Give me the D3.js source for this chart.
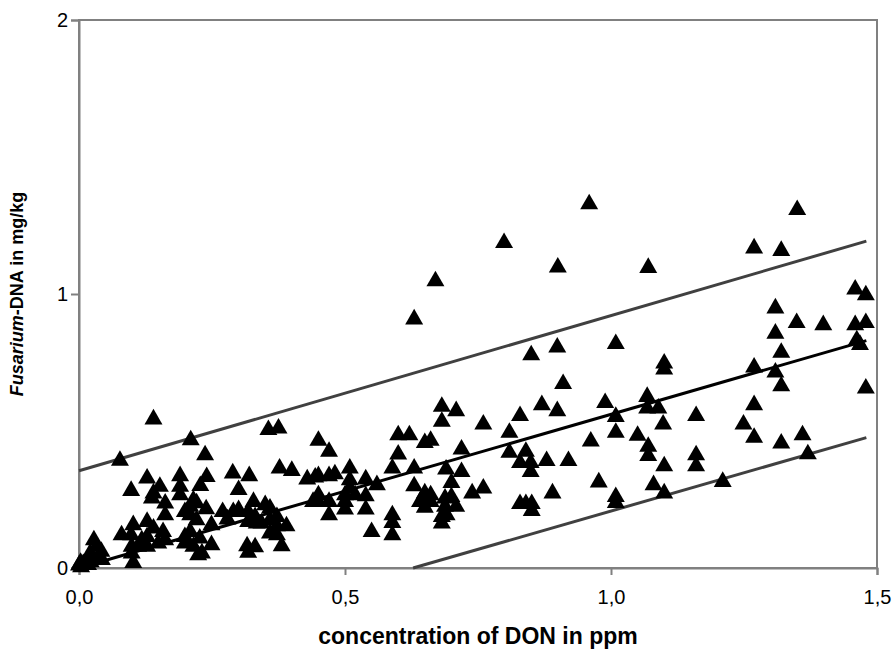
<!DOCTYPE html>
<html>
<head>
<meta charset="utf-8">
<script src="https://cdn.jsdelivr.net/npm/d3@7"></script>
<style>
  body { margin: 0; background: #fff; }
  text { font-family: "Liberation Sans", Arial, sans-serif; }
</style>
</head>
<body>
<script>
// DON (ppm) vs Fusarium-DNA (mg/kg)
var samples = [
  [0.000,0.010],[0.003,0.020],[0.008,0.015],[0.013,0.018],[0.017,0.012],[0.022,0.022],[0.004,0.003],[0.033,0.030],[0.043,0.030],
  [0.028,0.102],[0.033,0.078],[0.042,0.060],[0.021,0.054],[0.077,0.392],
  [0.098,0.282],[0.102,0.157],[0.098,0.120],[0.080,0.120],[0.128,0.169],[0.140,0.145],[0.128,0.114],[0.128,0.078],
  [0.158,0.132],[0.162,0.102],[0.149,0.090],[0.118,0.102],[0.111,0.078],[0.099,0.078],[0.099,0.054],[0.102,0.019],
  [0.199,0.114],[0.199,0.090],[0.215,0.078],[0.224,0.047],
  [0.128,0.327],[0.140,0.543],[0.210,0.467],[0.237,0.412],
  [0.190,0.336],[0.190,0.297],[0.190,0.266],[0.152,0.297],[0.140,0.273],[0.137,0.254],[0.162,0.236],[0.162,0.193],[0.228,0.300],[0.199,0.205],
  [0.240,0.333],[0.289,0.346],[0.320,0.336],[0.300,0.285],[0.377,0.364],[0.400,0.355],[0.429,0.324],[0.444,0.331],
  [0.356,0.504],[0.375,0.510],
  [0.239,0.215],[0.270,0.205],[0.290,0.205],[0.300,0.212],[0.328,0.242],[0.350,0.230],[0.359,0.218],
  [0.215,0.248],[0.221,0.237],[0.209,0.224],[0.209,0.193],[0.318,0.205],[0.331,0.187],[0.318,0.169],[0.334,0.163],[0.343,0.163],
  [0.359,0.175],[0.372,0.187],[0.372,0.153],[0.390,0.153],[0.359,0.127],[0.372,0.120],[0.381,0.080],[0.316,0.080],[0.331,0.076],[0.318,0.056],
  [0.249,0.157],[0.221,0.175],[0.227,0.108],[0.249,0.084],[0.231,0.054],[0.209,0.132],[0.279,0.178],
  [0.450,0.465],[0.470,0.425],[0.600,0.485],[0.621,0.485],[0.650,0.457],[0.661,0.465],[0.600,0.415],[0.589,0.364],[0.630,0.364],
  [0.509,0.364],[0.450,0.336],[0.470,0.336],[0.481,0.343],[0.509,0.321],[0.509,0.291],[0.539,0.324],[0.560,0.303],[0.630,0.299],
  [0.650,0.273],[0.661,0.266],[0.641,0.242],[0.661,0.242],[0.650,0.221],[0.450,0.266],[0.440,0.242],[0.450,0.242],[0.500,0.266],
  [0.519,0.266],[0.500,0.242],[0.539,0.263],[0.470,0.242],[0.500,0.214],[0.539,0.214],[0.470,0.193],[0.589,0.193],[0.589,0.165],
  [0.550,0.132],[0.589,0.120],
  [0.910,0.672],[0.870,0.595],[0.899,0.573],[0.829,0.555],[0.682,0.589],[0.682,0.534],[0.709,0.573],[0.760,0.524],[0.809,0.494],
  [0.962,0.462],[0.719,0.433],[0.809,0.421],[0.840,0.425],[0.829,0.384],[0.849,0.384],[0.879,0.391],[0.920,0.391],[0.849,0.351],
  [0.690,0.360],[0.719,0.351],[0.700,0.311],[0.760,0.291],[0.739,0.273],[0.890,0.273],[0.829,0.234],[0.840,0.234],[0.851,0.234],
  [0.851,0.209],[0.688,0.254],[0.700,0.260],[0.709,0.224],[0.688,0.224],[0.682,0.187],[0.691,0.193],[0.682,0.163],
  [0.850,0.777],[0.899,0.805],[1.009,0.818],
  [0.989,0.603],[1.068,0.625],[1.068,0.583],[1.089,0.583],[1.009,0.552],[1.160,0.555],[1.098,0.524],[1.249,0.524],[1.009,0.494],
  [1.050,0.483],[1.070,0.443],[1.070,0.409],[1.160,0.412],[1.160,0.372],[1.100,0.372],[0.977,0.313],[1.080,0.303],[1.100,0.273],
  [1.009,0.260],[1.009,0.238],[1.210,0.315],
  [1.350,1.307],[1.269,1.167],[1.320,1.158],[1.070,1.096],[1.459,1.017],[1.479,0.996],[1.309,0.948],[1.349,0.895],[1.399,0.887],
  [1.459,0.887],[1.479,0.895],[1.309,0.856],[1.320,0.786],[1.462,0.832],[1.468,0.815],[1.269,0.732],[1.309,0.714],[1.320,0.664],
  [1.479,0.656],[1.100,0.747],[1.100,0.725],[1.269,0.595],[1.269,0.476],[1.320,0.455],[1.360,0.485],[1.370,0.416],
  [0.959,1.328],[0.799,1.187],[0.900,1.097],[0.670,1.047],[0.630,0.908]
];

// regression line and prediction band (end points)
var fitLine = [[0, 0.0], [1.48, 0.83]];
var upperLine = [[0, 0.355], [1.48, 1.193]];
var lowerLine = [[0.628, 0], [1.48, 0.476]];

var xTicks = [0, 0.5, 1.0, 1.5];
var yTicks = [0, 1, 2];

var size = { width: 893, height: 651 };
var margin = { top: 20, right: 16, bottom: 83, left: 79 };
var w = size.width - margin.left - margin.right;
var h = size.height - margin.top - margin.bottom;

var comma = d3.formatLocale({ decimal: ",", thousands: ".", grouping: [3], currency: ["", ""] });

var x = d3.scaleLinear().domain([0, 1.5]).range([0, w]);
var y = d3.scaleLinear().domain([0, 2]).range([h, 0]);

var svg = d3.select("body").append("svg")
  .attr("width", size.width)
  .attr("height", size.height);

var g = svg.append("g")
  .attr("transform", "translate(" + margin.left + "," + margin.top + ")");

// frame
g.append("rect")
  .attr("width", w).attr("height", h)
  .attr("fill", "none")
  .attr("stroke", "#808080")
  .attr("stroke-width", 2);

var xAxis = g.append("g")
  .attr("transform", "translate(0," + h + ")")
  .call(d3.axisBottom(x).tickValues(xTicks).tickFormat(comma.format(".1f")).tickSize(7).tickPadding(15));

var yAxis = g.append("g")
  .call(d3.axisLeft(y).tickValues(yTicks).tickFormat(d3.format("d")).tickSize(8).tickPadding(3));

[xAxis, yAxis].forEach(function (a) {
  a.select(".domain").attr("stroke", "#808080").attr("stroke-width", 2);
  a.selectAll(".tick line").attr("stroke", "#808080").attr("stroke-width", 2);
  a.selectAll(".tick text")
    .attr("fill", "#000")
    .style("font-family", "'Liberation Sans', Arial, sans-serif")
    .style("font-size", "20px");
});

var line = d3.line().x(d => x(d[0])).y(d => y(d[1]));

g.append("path").attr("d", line(upperLine))
  .attr("stroke", "#404040").attr("stroke-width", 3).attr("fill", "none");
g.append("path").attr("d", line(lowerLine))
  .attr("stroke", "#404040").attr("stroke-width", 3).attr("fill", "none");

g.selectAll(".pt")
  .data(samples)
  .enter().append("path")
  .attr("class", "pt")
  .attr("d", d3.symbol(d3.symbolTriangle, 140))
  .attr("transform", d => "translate(" + x(d[0]) + "," + y(d[1]) + ")")
  .attr("fill", "#000");

g.append("path").attr("d", line(fitLine))
  .attr("stroke", "#000").attr("stroke-width", 3).attr("fill", "none");

// axis titles
svg.append("text")
  .attr("x", margin.left + w / 2)
  .attr("y", 644)
  .attr("text-anchor", "middle")
  .style("font-size", "23px")
  .style("font-weight", "bold")
  .text("concentration of DON in ppm");

var yt = svg.append("text")
  .attr("transform", "translate(23," + (margin.top + h / 2) + ") rotate(-90)")
  .attr("text-anchor", "middle")
  .style("font-size", "18px")
  .style("font-weight", "bold");
yt.append("tspan").style("font-style", "italic").text("Fusarium");
yt.append("tspan").text("-DNA in mg/kg");
</script>
</body>
</html>
